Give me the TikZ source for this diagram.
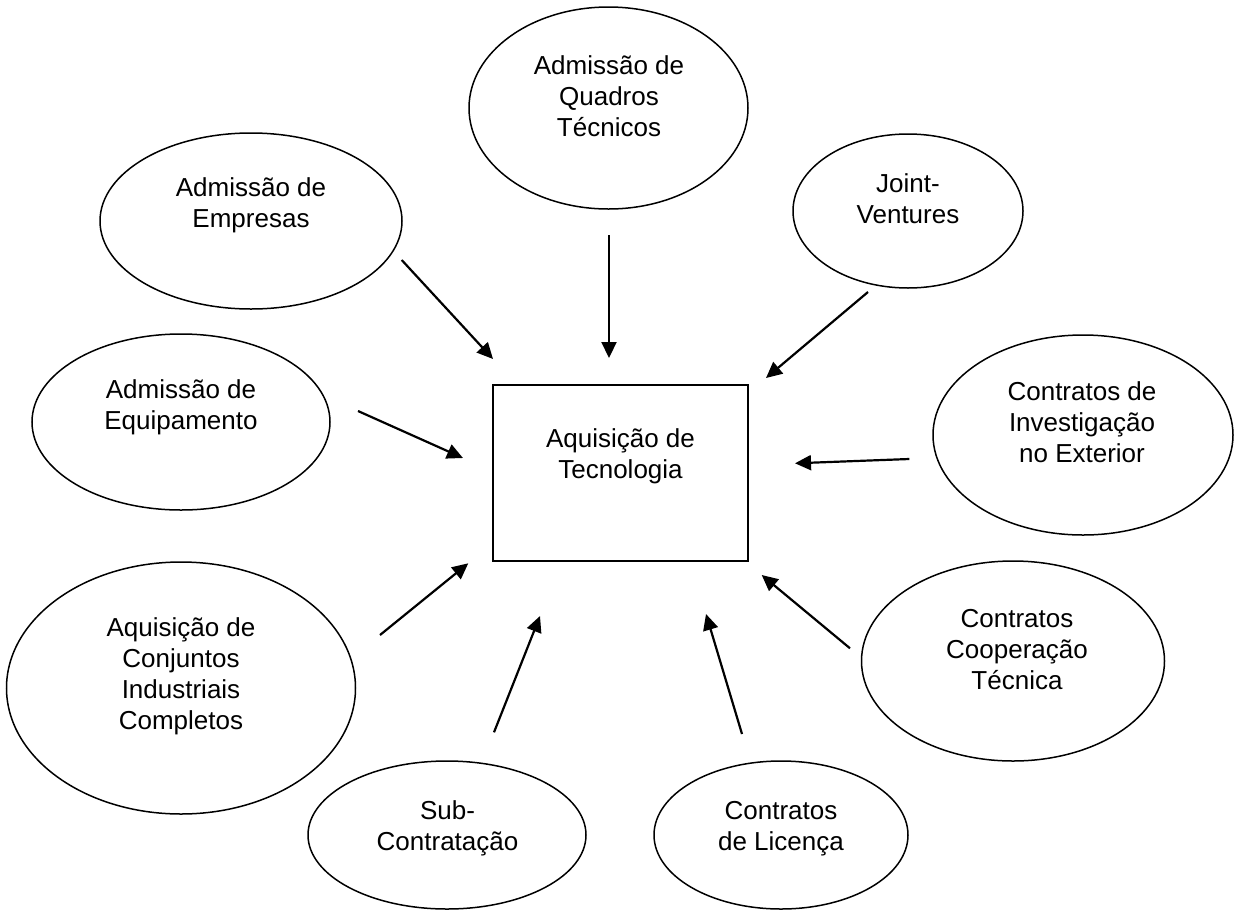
\documentclass[tikz,border=0pt]{standalone}
\usepackage{fontspec}
\setmainfont{Liberation Sans}
\usetikzlibrary{shapes.geometric,arrows.meta}
\newcommand{\stk}[1]{\vtop{\halign{\hfil##\hfil\cr#1\crcr}}}
\tikzset{
  oval/.style={draw=black, line width=1.5pt, ellipse, inner sep=0pt},
  lbl/.style={inner sep=0pt, anchor=base, font=\fontsize{26}{31}\selectfont},
  box/.style={draw=black, line width=1.7pt, inner sep=0pt},
  arr/.style={line width=2.2pt, -{Triangle[length=16pt,width=15pt]}},
}
\begin{document}
\begin{tikzpicture}[x=1pt,y=-1pt]
\useasboundingbox (0,0) rectangle (1240,911);
% central box
\node[box, minimum width=255pt, minimum height=176pt] (tec) at (620.5,473) {};
\node[lbl] (tec-t) at (620.5,447) {\stk{Aquisição de\cr Tecnologia}};
% ellipses
\node[oval, minimum width=279pt, minimum height=202pt] (qua) at (608.5,108) {};
\node[lbl] (qua-t) at (609,74) {\stk{Admissão de\cr Quadros\cr Técnicos}};
\node[oval, minimum width=230pt, minimum height=154pt] (jv) at (908,211) {};
\node[lbl] (jv-t) at (908,192) {\stk{Joint-\cr Ventures}};
\node[oval, minimum width=302pt, minimum height=176pt] (emp) at (251,221) {};
\node[lbl] (emp-t) at (251,196.7) {\stk{Admissão de\cr Empresas}};
\node[oval, minimum width=298pt, minimum height=176pt] (equ) at (181,422) {};
\node[lbl] (equ-t) at (181,398.3) {\stk{Admissão de\cr Equipamento}};
\node[oval, minimum width=300pt, minimum height=200pt] (inv) at (1083,435) {};
\node[lbl] (inv-t) at (1082,400) {\stk{Contratos de\cr Investigação\cr no Exterior}};
\node[oval, minimum width=349pt, minimum height=252pt] (con) at (181,688) {};
\node[lbl] (con-t) at (181,636.7) {\stk{Aquisição de\cr Conjuntos\cr Industriais\cr Completos}};
\node[oval, minimum width=303pt, minimum height=200pt] (coo) at (1013,661) {};
\node[lbl] (coo-t) at (1017,627.3) {\stk{Contratos\cr Cooperação\cr Técnica}};
\node[oval, minimum width=278pt, minimum height=148pt] (sub) at (447,835) {};
\node[lbl] (sub-t) at (447.5,819.3) {\stk{Sub-\cr Contratação}};
\node[oval, minimum width=254pt, minimum height=148pt] (lic) at (781,835) {};
\node[lbl] (lic-t) at (781,819.3) {\stk{Contratos\cr de Licença}};
% arrow end points
\coordinate (a1s) at (401.7,260);  \coordinate (a1e) at (493,359);
\coordinate (a2s) at (609,235);    \coordinate (a2e) at (609,358);
\coordinate (a3s) at (868,292);    \coordinate (a3e) at (766,378);
\coordinate (a4s) at (358,411);    \coordinate (a4e) at (463,458);
\coordinate (a5s) at (909.3,459);  \coordinate (a5e) at (795,463.3);
\coordinate (a6s) at (380,635);    \coordinate (a6e) at (468.3,563.3);
\coordinate (a7s) at (494,732.3);  \coordinate (a7e) at (540,616);
\coordinate (a8s) at (742,734);    \coordinate (a8e) at (706,614);
\coordinate (a9s) at (850,648.3);  \coordinate (a9e) at (761.7,575);
\foreach \i in {1,...,9} \draw[arr] (a\i s) -- (a\i e);
\end{tikzpicture}
\end{document}
